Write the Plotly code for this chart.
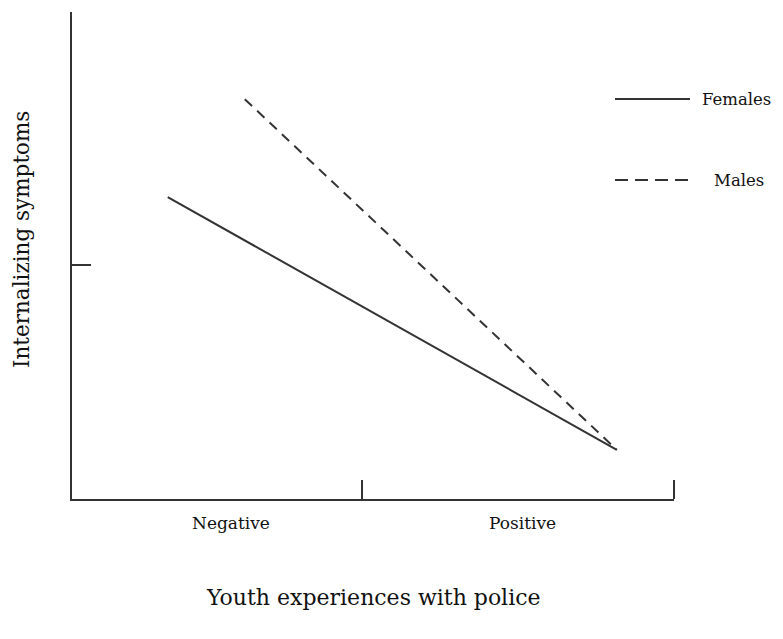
import plotly.graph_objects as go

# Data (normalized axis units)
series_names = ["Females", "Males"]
x_start = [0.159, 0.287]
x_end = [0.905, 0.905]
y_start = [0.620, 0.821]
y_end = [0.101, 0.101]
x_tick_vals = [0.482]
x_end_tick = 1.0
y_tick_vals = [0.480]
x_categories = ["Negative", "Positive"]
x_category_pos = [0.264, 0.748]

FONT = "DejaVu Serif"
INK = "#333333"
TXT = "#111111"

# plot area in page pixels: x 72..674, y 12..499 (page has 8px offset)
PX0, PX1, PY0, PY1 = 72, 674, 12, 499
PW, PH = PX1 - PX0, PY1 - PY0
TICKLEN = 19


def px(x):
    return (x - PX0) / PW


def py(y):
    return (PY1 - y) / PH


fig = go.Figure()
dashes = ["solid", "10px,7px"]
for i, name in enumerate(series_names):
    fig.add_trace(go.Scatter(
        x=[x_start[i], x_end[i]], y=[y_start[i], y_end[i]],
        mode="lines", name=name, showlegend=False,
        line=dict(color=INK, width=2, dash=dashes[i]),
    ))

# end tick on the x axis (plotly hides inside ticks at the range edge)
fig.add_shape(type="line", xref="paper", yref="paper",
              x0=x_end_tick, x1=x_end_tick, y0=0, y1=TICKLEN / PH,
              line=dict(color=INK, width=2))

# category labels
for lab, pos in zip(x_categories, x_category_pos):
    fig.add_annotation(x=pos, y=py(523), xref="x", yref="paper", text=lab,
                       showarrow=False, font=dict(family=FONT, size=17, color=TXT),
                       xanchor="center", yanchor="middle")

# axis titles
fig.add_annotation(x=px(373), y=py(597), xref="paper", yref="paper",
                   text="Youth experiences with police", showarrow=False,
                   font=dict(family=FONT, size=22, color=TXT), xanchor="center", yanchor="middle")
fig.add_annotation(x=px(22), y=py(240), xref="paper", yref="paper",
                   text="Internalizing symptoms", showarrow=False, textangle=-90,
                   font=dict(family=FONT, size=21.5, color=TXT), xanchor="center", yanchor="middle")

# custom legend
leg_y = [py(99), py(180)]
leg_text_x = [px(700), px(712)]
leg_dash = ["solid", "13px,7px"]
for i, name in enumerate(series_names):
    fig.add_shape(type="line", xref="paper", yref="paper",
                  x0=px(615), x1=px(690), y0=leg_y[i], y1=leg_y[i],
                  line=dict(color=INK, width=2, dash=leg_dash[i]))
    fig.add_annotation(x=leg_text_x[i], y=leg_y[i], xref="paper", yref="paper", text=name,
                       showarrow=False, font=dict(family=FONT, size=16.5, color=TXT),
                       xanchor="left", yanchor="middle")

axis_common = dict(showline=True, linecolor=INK, linewidth=2, ticks="inside",
                   ticklen=TICKLEN, tickwidth=2, tickcolor=INK, showticklabels=False,
                   showgrid=False, zeroline=False, range=[0, 1], fixedrange=True)
fig.update_xaxes(tickvals=x_tick_vals, **axis_common)
fig.update_yaxes(tickvals=y_tick_vals, **axis_common)

fig.update_layout(
    width=783, height=639,
    margin=dict(l=PX0 - 8, r=783 - (PX1 - 8), t=PY0 - 8, b=639 - (PY1 - 8)),
    plot_bgcolor="white", paper_bgcolor="white",
    showlegend=False,
)
fig.write_html("out.html")
